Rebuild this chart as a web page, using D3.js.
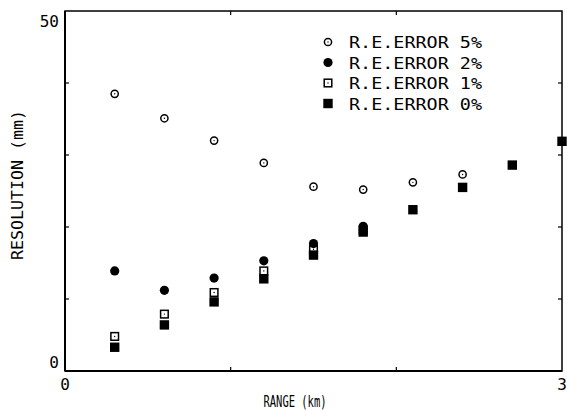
<!DOCTYPE html>
<html>
<head>
<meta charset="utf-8">
<script src="https://cdn.jsdelivr.net/npm/d3@7"></script>
<style>
  html, body { margin: 0; padding: 0; background: #fff; }
  svg { display: block; }
</style>
</head>
<body>
<script>
// Data
const ranges = [0.3, 0.6, 0.9, 1.2, 1.5, 1.8, 2.1, 2.4, 2.7, 3.0];
const err5 = [38.5, 35.1, 32.0, 28.9, 25.6, 25.2, 26.2, 27.3];
const err2 = [13.9, 11.2, 12.9, 15.3, 17.7, 20.1];
const err1 = [4.8, 7.9, 10.9, 13.9, 16.9, 19.6];
const err0 = [3.3, 6.4, 9.6, 12.8, 16.1, 19.3, 22.4, 25.5, 28.6, 31.9];
const legendLabels = ["R.E.ERROR 5%", "R.E.ERROR 2%", "R.E.ERROR 1%", "R.E.ERROR 0%"];
const xTicks = [1, 2];
const yTicks = [10, 20, 30, 40];

const width = 567;
const height = 412;
const font = "'DejaVu Sans Mono', monospace";

const x = d3.scaleLinear().domain([0, 3]).range([65, 562]);
const y = d3.scaleLinear().domain([0, 50]).range([371, 11]);

const svg = d3.select("body").append("svg")
  .attr("width", width)
  .attr("height", height)
  .style("background", "#fff");

// frame
svg.append("rect")
  .attr("x", x(0)).attr("y", y(50))
  .attr("width", x(3) - x(0)).attr("height", y(0) - y(50))
  .attr("fill", "none").attr("stroke", "#000").attr("stroke-width", 1.5);
svg.append("line")
  .attr("x1", x(0)).attr("x2", x(0)).attr("y1", y(50)).attr("y2", y(0))
  .attr("stroke", "#000").attr("stroke-width", 2);
svg.append("line")
  .attr("x1", x(0)).attr("x2", x(3)).attr("y1", y(0)).attr("y2", y(0))
  .attr("stroke", "#000").attr("stroke-width", 2);

// inward ticks on all four sides
const axisG = svg.append("g").attr("stroke", "#000").attr("stroke-width", 1.2);
xTicks.forEach(t => {
  axisG.append("line").attr("x1", x(t)).attr("x2", x(t)).attr("y1", y(0)).attr("y2", y(0) - 4);
  axisG.append("line").attr("x1", x(t)).attr("x2", x(t)).attr("y1", y(50)).attr("y2", y(50) + 4);
});
yTicks.forEach(t => {
  axisG.append("line").attr("x1", x(0)).attr("x2", x(0) + 4).attr("y1", y(t)).attr("y2", y(t));
  axisG.append("line").attr("x1", x(3)).attr("x2", x(3) - 4).attr("y1", y(t)).attr("y2", y(t));
});

// end labels only, like the plotter output
const lbl = svg.append("g").attr("font-family", font).attr("font-size", 16).attr("fill", "#000");
lbl.append("text").attr("x", x(0) - 6).attr("y", y(50) + 16).attr("text-anchor", "end").text("50");
lbl.append("text").attr("x", x(0) - 6).attr("y", y(0) - 3).attr("text-anchor", "end").text("0");
lbl.append("text").attr("x", x(0)).attr("y", y(0) + 19).attr("text-anchor", "middle").text("0");
lbl.append("text").attr("x", x(3)).attr("y", y(0) + 19).attr("text-anchor", "middle").text("3");

// axis titles
svg.append("text")
  .attr("x", 295).attr("y", 407)
  .attr("text-anchor", "middle")
  .attr("font-family", font).attr("font-size", 16)
  .attr("textLength", 63).attr("lengthAdjust", "spacingAndGlyphs")
  .text("RANGE (km)");
svg.append("text")
  .attr("transform", "translate(23,185) rotate(-90)")
  .attr("text-anchor", "middle")
  .attr("font-family", font).attr("font-size", 15)
  .attr("textLength", 150).attr("lengthAdjust", "spacingAndGlyphs")
  .text("RESOLUTION (mm)");

// marker drawers
function openCircle(g, cx, cy) {
  g.append("circle").attr("cx", cx).attr("cy", cy).attr("r", 3.6)
    .attr("fill", "#fff").attr("stroke", "#000").attr("stroke-width", 1.5);
  g.append("circle").attr("cx", cx).attr("cy", cy).attr("r", 0.7).attr("fill", "#000");
}
function filledCircle(g, cx, cy) {
  g.append("circle").attr("cx", cx).attr("cy", cy).attr("r", 4.6).attr("fill", "#000");
}
function openSquare(g, cx, cy) {
  g.append("rect").attr("x", cx - 3.8).attr("y", cy - 3.8).attr("width", 7.6).attr("height", 7.6)
    .attr("fill", "#fff").attr("stroke", "#000").attr("stroke-width", 1.5);
  g.append("circle").attr("cx", cx).attr("cy", cy).attr("r", 0.7).attr("fill", "#000");
}
function filledSquare(g, cx, cy) {
  g.append("rect").attr("x", cx - 4.7).attr("y", cy - 4.7).attr("width", 9.4).attr("height", 9.4)
    .attr("fill", "#000");
}

const series = [
  { values: err5, draw: openCircle },
  { values: err1, draw: openSquare },
  { values: err0, draw: filledSquare },
  { values: err2, draw: filledCircle }
];
const marks = svg.append("g");
series.forEach(s => {
  s.values.forEach((v, i) => s.draw(marks, x(ranges[i]), y(v)));
});

// legend
const legendDraw = [openCircle, filledCircle, openSquare, filledSquare];
const leg = svg.append("g");
legendLabels.forEach((t, i) => {
  const ly = 42 + i * 20.5;
  legendDraw[i](leg, 328, ly);
  leg.append("text")
    .attr("x", 349).attr("y", ly + 6)
    .attr("font-family", font).attr("font-size", 16)
    .attr("textLength", 133).attr("lengthAdjust", "spacingAndGlyphs")
    .text(t);
});
</script>
</body>
</html>
